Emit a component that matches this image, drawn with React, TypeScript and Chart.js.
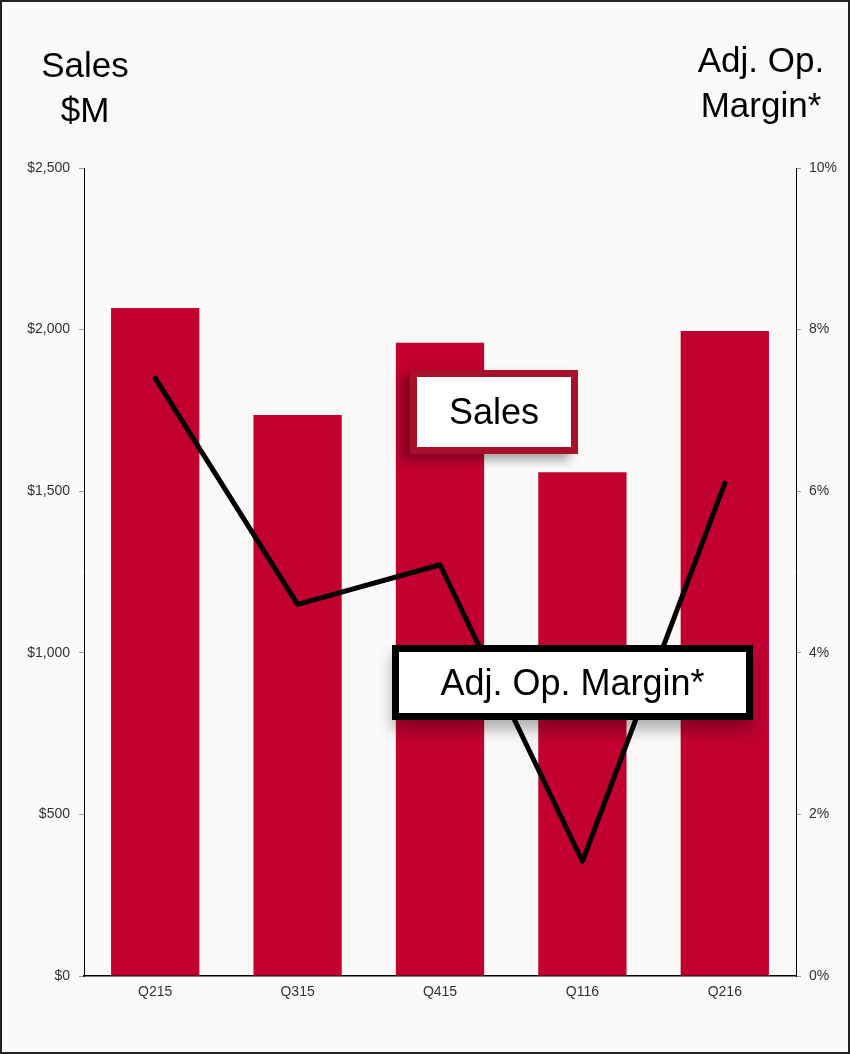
import React, { useEffect, useRef } from "react";
import { Chart, registerables } from "chart.js";

Chart.register(...registerables);

const categories = ["Q215", "Q315", "Q415", "Q116", "Q216"];
const salesValues = [2067, 1736, 1959, 1559, 1996];
const marginValues = [7.4, 4.6, 5.09, 1.42, 6.1];
const salesTicks = [0, 500, 1000, 1500, 2000, 2500];
const marginTicks = [0, 2, 4, 6, 8, 10];

const W = 850;
const H = 1054;
const tickFont = { family: "Liberation Sans, Arial, sans-serif", size: 14 };

export default function App() {
  const ref = useRef<HTMLCanvasElement | null>(null);

  useEffect(() => {
    if (!ref.current) return;
    const chart = new Chart(ref.current, {
      type: "bar",
      data: {
        labels: categories,
        datasets: [
          {
            type: "line",
            label: "Adj. Op. Margin*",
            data: marginValues,
            yAxisID: "y1",
            borderColor: "#000000",
            borderWidth: 5,
            pointRadius: 0,
            tension: 0,
            borderJoinStyle: "round",
            borderCapStyle: "round",
            fill: false,
            order: 0,
          },
          {
            type: "bar",
            label: "Sales",
            data: salesValues,
            yAxisID: "y",
            backgroundColor: "#c20030",
            barPercentage: 0.62,
            categoryPercentage: 1,
            order: 1,
          },
        ],
      },
      options: {
        responsive: false,
        animation: false,
        maintainAspectRatio: false,
        layout: { padding: { top: 168, left: 0, right: 0, bottom: 0 } },
        plugins: { legend: { display: false }, tooltip: { enabled: false } },
        scales: {
          x: {
            grid: { display: false, drawTicks: false },
            border: { color: "#000", width: 1.5 },
            ticks: { color: "#333", font: tickFont, padding: 8 },
            afterFit: (s: any) => {
              s.height = H - 976;
            },
          },
          y: {
            position: "left",
            min: 0,
            max: 2500,
            afterBuildTicks: (s: any) => {
              s.ticks = salesTicks.map((v) => ({ value: v }));
            },
            grid: { drawOnChartArea: false, drawTicks: true, tickLength: 5, color: "#999" },
            border: { color: "#000", width: 1 },
            ticks: {
              color: "#333",
              font: tickFont,
              padding: 9,
              callback: (v: any) => "$" + Number(v).toLocaleString("en-US"),
            },
            afterFit: (s: any) => {
              s.width = 84;
            },
          },
          y1: {
            position: "right",
            min: 0,
            max: 10,
            afterBuildTicks: (s: any) => {
              s.ticks = marginTicks.map((v) => ({ value: v }));
            },
            grid: { drawOnChartArea: false, drawTicks: true, tickLength: 5, color: "#999" },
            border: { color: "#000", width: 1 },
            ticks: {
              color: "#333",
              font: tickFont,
              padding: 8,
              callback: (v: any) => v + "%",
            },
            afterFit: (s: any) => {
              s.width = W - 796;
            },
          },
        },
      },
    });
    return () => chart.destroy();
  }, []);

  const titleStyle: React.CSSProperties = {
    position: "absolute",
    fontFamily: "Liberation Sans, Arial, sans-serif",
    fontSize: 35,
    lineHeight: "45px",
    color: "#000",
    textAlign: "center",
    whiteSpace: "nowrap",
  };

  return (
    <div
      style={{
        position: "fixed",
        left: 0,
        top: 0,
        width: W,
        height: H,
        background: "#fbfaf8",
        overflow: "hidden",
      }}
    >
      <canvas ref={ref} width={W} height={H} style={{ position: "absolute", left: 0, top: 0, width: W, height: H }} />
      <div style={{ ...titleStyle, left: 25, width: 120, top: 42 }}>
        Sales
        <br />
        $M
      </div>
      <div style={{ ...titleStyle, left: 681, width: 160, top: 37 }}>
        Adj. Op.
        <br />
        Margin*
      </div>
      <div
        style={{
          position: "absolute",
          left: 410,
          top: 370,
          width: 168,
          height: 84,
          boxSizing: "border-box",
          border: "7px solid #a8112b",
          background: "#fff",
          boxShadow: "-8px 6px 10px rgba(0,0,0,0.35)",
          display: "flex",
          alignItems: "center",
          justifyContent: "center",
          fontFamily: "Liberation Sans, Arial, sans-serif",
          fontSize: 36,
          color: "#000",
        }}
      >
        Sales
      </div>
      <div
        style={{
          position: "absolute",
          left: 392,
          top: 645,
          width: 361,
          height: 75,
          boxSizing: "border-box",
          border: "7px solid #000",
          background: "#fff",
          boxShadow: "0px 10px 14px rgba(0,0,0,0.3)",
          display: "flex",
          alignItems: "center",
          justifyContent: "center",
          fontFamily: "Liberation Sans, Arial, sans-serif",
          fontSize: 36,
          color: "#000",
        }}
      >
        Adj. Op. Margin*
      </div>
      <div
        style={{
          position: "absolute",
          left: 0,
          top: 0,
          width: W,
          height: H,
          boxSizing: "border-box",
          border: "2px solid #222",
          pointerEvents: "none",
        }}
      />
    </div>
  );
}
